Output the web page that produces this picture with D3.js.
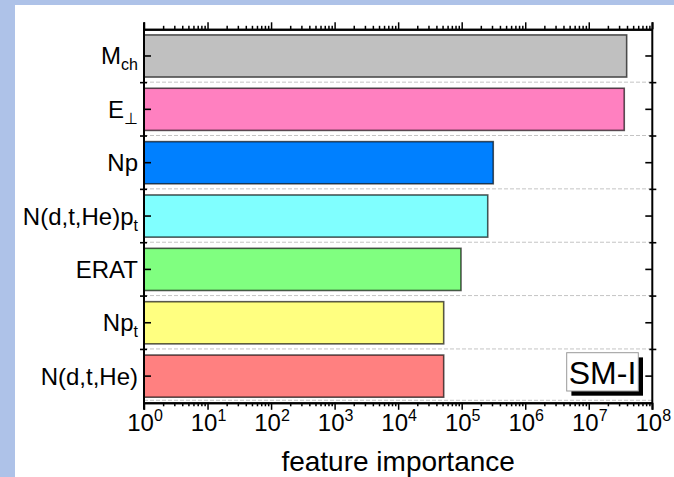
<!DOCTYPE html>
<html><head><meta charset="utf-8">
<script src="https://cdn.jsdelivr.net/npm/d3@7"></script>
<style>
html,body{margin:0;padding:0;background:#aec2e8;}
svg{display:block;}
text{font-family:"Liberation Sans",Arial,Helvetica,sans-serif;fill:#000;}
</style></head>
<body>
<svg id="chart" width="674" height="477"></svg>
<script>
// ---- data ----
const categories = ["Mch", "Eperp", "Np", "Ndtpt", "ERAT", "Npt", "Ndt"];
const labelMain = ["M", "E", "Np", "N(d,t,He)p", "ERAT", "Np", "N(d,t,He)"];
const labelSub  = ["ch", "\u22A5", "", "t", "", "t", ""];
const values = [3.95e7, 3.62e7, 3.14e5, 2.57e5, 9.75e4, 5.21e4, 5.21e4];
const colors = ["#c0c0c0", "#ff80c0", "#0080ff", "#80ffff", "#80ff80", "#ffff80", "#ff8080"];
const tickExponents = [0, 1, 2, 3, 4, 5, 6, 7, 8];
const xTitle = "feature importance";
const panelLabel = "SM-I";

// ---- layout ----
const W = 674, H = 477;
const m = {left: 144, right: 21.7, top: 29.3, bottom: 74.2};
const svg = d3.select("#chart");
svg.append("rect").attr("x", 15).attr("y", 5).attr("width", W - 15).attr("height", H - 5).attr("fill", "#fff");

const x = d3.scaleLog().domain([1, 1e8]).range([m.left, W - m.right]);
const y = d3.scaleBand().domain(categories).range([m.top, H - m.bottom]).padding(0);
const bw = y.bandwidth();

// separators (dashed)
const bounds = categories.slice(1).map(c => y(c)).concat([H - m.bottom - 2]);
svg.append("g").selectAll("line").data(bounds).join("line")
  .attr("x1", m.left).attr("x2", W - m.right)
  .attr("y1", d => d - 0.5).attr("y2", d => d - 0.5)
  .attr("stroke", "#c4c4c4").attr("stroke-width", 1).attr("stroke-dasharray", "4,2");

// bars
svg.append("g").selectAll("rect").data(categories).join("rect")
  .attr("x", x(1))
  .attr("y", c => y(c) + bw * 0.105)
  .attr("width", (c, i) => x(values[i]) - x(1))
  .attr("height", bw * 0.79)
  .attr("fill", (c, i) => colors[i])
  .attr("stroke", "#000").attr("stroke-opacity", 0.65).attr("stroke-width", 1.6);

// x axes
const majors = tickExponents.map(e => Math.pow(10, e));
const minors = [];
tickExponents.slice(0, -1).forEach(e => { for (let k = 2; k <= 9; k++) minors.push(k * Math.pow(10, e)); });

function styleAxis(g) {
  g.select(".domain").attr("stroke-width", 2);
  g.selectAll(".tick line").attr("stroke-width", 1.5);
}
const yb = H - m.bottom, yt = m.top;
svg.append("g").attr("transform", `translate(0,${yb})`)
  .call(d3.axisBottom(x).tickValues(majors).tickSize(7).tickSizeOuter(0).tickFormat(""))
  .call(styleAxis);
svg.append("g").attr("transform", `translate(0,${yb})`)
  .call(d3.axisBottom(x).tickValues(minors).tickSize(3.5).tickSizeOuter(0).tickFormat(""))
  .call(styleAxis);
svg.append("g").attr("transform", `translate(0,${yt})`)
  .call(d3.axisTop(x).tickValues(majors).tickSize(7).tickSizeOuter(0).tickFormat(""))
  .call(styleAxis);
svg.append("g").attr("transform", `translate(0,${yt})`)
  .call(d3.axisTop(x).tickValues(minors).tickSize(3.5).tickSizeOuter(0).tickFormat(""))
  .call(styleAxis);

// x tick labels
const tl = svg.append("g").selectAll("text").data(tickExponents).join("text")
  .attr("x", e => x(Math.pow(10, e)) + 1)
  .attr("y", yb + 28)
  .attr("text-anchor", "middle")
  .attr("font-size", 24);
tl.append("tspan").text("10");
tl.append("tspan").attr("font-size", 16).attr("dy", -10).text(e => e);

// x title
svg.append("text").attr("x", (m.left + W - m.right) / 2).attr("y", 471)
  .attr("text-anchor", "middle").attr("font-size", 28).text(xTitle);

// y axes (left and right)
const centers = categories.map(c => y(c) + bw / 2);
const allBounds = categories.map(c => y(c)).concat([H - m.bottom]);
const xl = m.left, xr = W - m.right;
const ax = svg.append("g");
ax.append("line").attr("x1", xl).attr("x2", xl).attr("y1", m.top - 7).attr("y2", yb + 7).attr("stroke", "#000").attr("stroke-width", 2);
ax.append("line").attr("x1", xr).attr("x2", xr).attr("y1", m.top - 7).attr("y2", yb + 7).attr("stroke", "#000").attr("stroke-width", 2);
ax.selectAll(".lc").data(centers).join("line").attr("class", "lc")
  .attr("x1", xl).attr("x2", xl + 7).attr("y1", d => d).attr("y2", d => d).attr("stroke", "#000").attr("stroke-width", 1.6);
ax.selectAll(".rc").data(centers).join("line").attr("class", "rc")
  .attr("x1", xr - 7).attr("x2", xr).attr("y1", d => d).attr("y2", d => d).attr("stroke", "#000").attr("stroke-width", 1.6);
ax.selectAll(".lb").data(allBounds.slice(1, -1)).join("line").attr("class", "lb")
  .attr("x1", xl - 4).attr("x2", xl + 3).attr("y1", d => d).attr("y2", d => d).attr("stroke", "#000").attr("stroke-width", 1.6);
ax.selectAll(".rb").data(allBounds.slice(1, -1)).join("line").attr("class", "rb")
  .attr("x1", xr - 3).attr("x2", xr + 4).attr("y1", d => d).attr("y2", d => d).attr("stroke", "#000").attr("stroke-width", 1.6);

// category labels
const cl = svg.append("g").selectAll("text").data(categories).join("text")
  .attr("x", xl - 6)
  .attr("y", c => y(c) + bw / 2 + 8.5)
  .attr("text-anchor", "end")
  .attr("font-size", 24);
cl.append("tspan").text((c, i) => labelMain[i]);
cl.append("tspan").attr("font-size", 16).attr("dy", 6).text((c, i) => labelSub[i]);

// panel label box
const bx = 566.7, by = 352.7, bwid = 71.6, bht = 38.3;
svg.append("rect").attr("x", bx + 4.7).attr("y", by + 4.7).attr("width", bwid).attr("height", bht).attr("fill", "#000");
svg.append("rect").attr("x", bx).attr("y", by).attr("width", bwid).attr("height", bht).attr("fill", "#fff").attr("stroke", "#999").attr("stroke-width", 1);
svg.append("text").attr("x", bx + bwid / 2).attr("y", 384).attr("text-anchor", "middle").attr("font-size", 32).text(panelLabel);
</script>
</body></html>
